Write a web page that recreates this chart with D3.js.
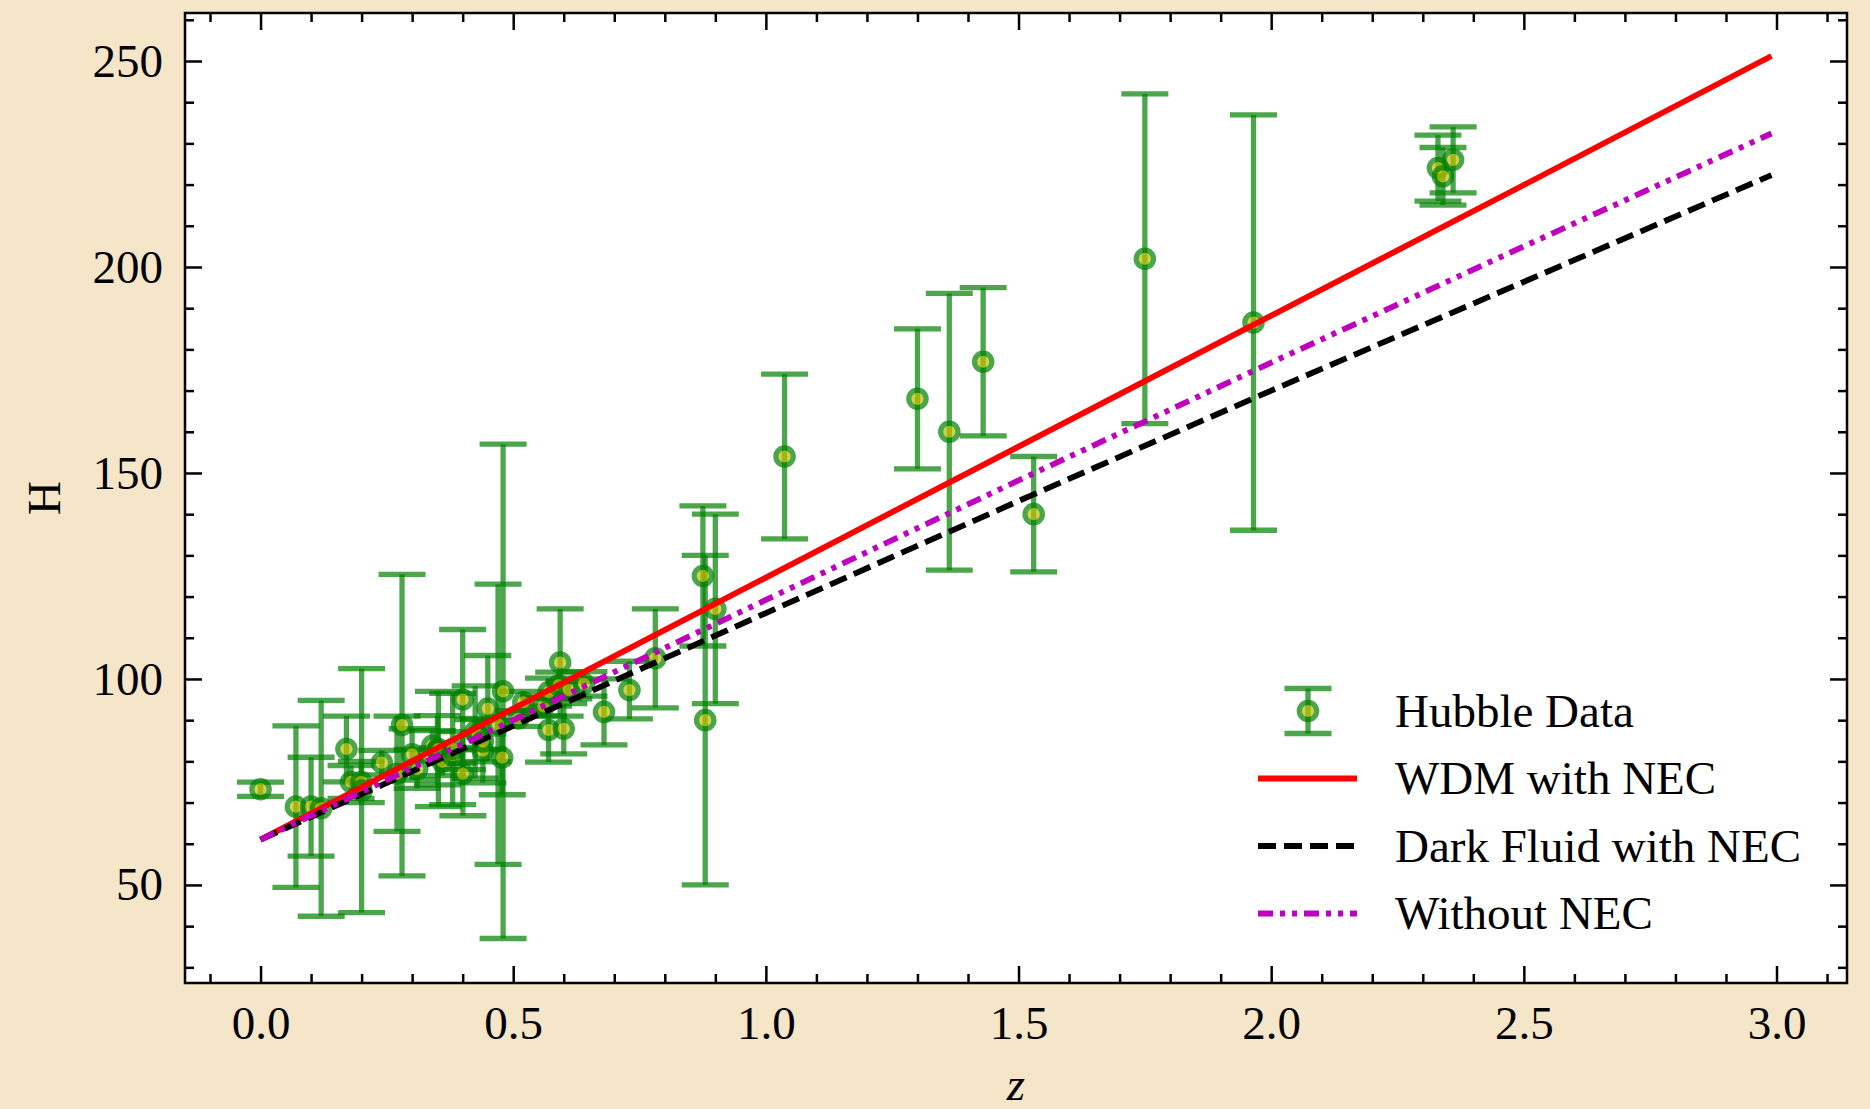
<!DOCTYPE html>
<html lang="en">
<head>
<meta charset="UTF-8">
<script src="https://d3js.org/d3.v7.min.js"></script>
<title>H(z) with Hubble data</title>
<style>
  body { margin: 0; background: #f5e5c9; }
  svg text { font-family: "Liberation Serif", "DejaVu Serif", serif; fill: #000; }
  .axis path.domain { display: none; }
  .axis line { stroke: #000; }
</style>
</head>
<body>
<svg id="chart" width="1870" height="1109"></svg>
<script>
// observed Hubble points: redshift, H, error
const zObs = [0, 0.07, 0.1, 0.12, 0.17, 0.1791, 0.1993, 0.2, 0.24, 0.27, 0.28, 0.3, 0.31, 0.34, 0.35, 0.3519, 0.36, 0.38, 0.3802, 0.4,
  0.4004, 0.4247, 0.43, 0.44, 0.44, 0.4497, 0.47, 0.4783, 0.48, 0.51, 0.52, 0.56, 0.57, 0.57, 0.59, 0.5929, 0.6, 0.61, 0.64, 0.6797,
  0.73, 0.7812, 0.8754, 0.88, 0.9, 1.037, 1.3, 1.363, 1.43, 1.53, 1.75, 1.965, 2.33, 2.34, 2.36];
const hObs = [73.24, 69, 69, 68.6, 83, 75, 75, 72.9, 79.69, 77, 88.8, 81.7, 78.17, 83.8, 82.7, 83, 79.93, 81.5, 83, 95,
  77, 87.1, 86.45, 82.6, 84.81, 92.8, 89, 80.9, 97, 90.4, 94.35, 93.34, 87.6, 96.8, 98.48, 104, 87.9, 97.3, 98.82, 92,
  97.3, 105, 125, 90, 117, 154, 168, 160, 177, 140, 202, 186.5, 224, 222, 226];
const hErr = [1.74, 19.6, 12, 26.2, 8, 4, 5, 29.6, 2.99, 14, 36.6, 6.22, 4.74, 3.66, 8.4, 14, 3.39, 1.9, 13.5, 17,
  10.2, 11.2, 3.68, 7.8, 1.83, 12.9, 34, 9, 60, 1.9, 2.64, 2.3, 7.8, 3.4, 3.18, 13, 6.1, 2.1, 2.98, 8,
  7, 12, 17, 40, 23, 20, 17, 33.6, 18, 14, 40, 50.4, 8, 7, 8];

// model curves
const zModel = [0, 0.5, 1.0, 1.5, 2.0, 2.5, 2.99];
const hWDM = [61, 92.8, 124.6, 156.4, 188.2, 219.9, 251.2];
const hDarkFluid = [61, 88.6, 116.0, 143.2, 170.0, 196.4, 222.3];
const hNoNEC = [61, 90.0, 119.2, 148.2, 176.8, 205.0, 232.4];

const xTicks = [0, 0.5, 1.0, 1.5, 2.0, 2.5, 3.0];
const yTicks = [50, 100, 150, 200, 250];
const legendLabels = ["Hubble Data", "WDM with NEC", "Dark Fluid with NEC", "Without NEC"];

const svg = d3.select("#chart");
const box = {left: 185, right: 1847, top: 13, bottom: 983};

const x = d3.scaleLinear().domain([-0.1495, 3.1395]).range([box.left, box.right]);
const y = d3.scaleLinear().domain([26.2, 261.65]).range([box.bottom, box.top]);

svg.append("rect")
  .attr("x", box.left).attr("y", box.top)
  .attr("width", box.right - box.left).attr("height", box.bottom - box.top)
  .attr("fill", "#fff");

// ticks (inward, on all four sides)
const xMinor = d3.range(-1, 32).map(i => i / 10).filter(v => Math.abs(v * 2 - Math.round(v * 2)) > 1e-6);
const yMinor = d3.range(3, 27).map(i => i * 10).filter(v => v % 50 != 0);
const fmt = d3.format(".1f");

function addAxis(axis, tx, ty) {
  return svg.append("g").attr("class", "axis")
    .attr("transform", `translate(${tx},${ty})`)
    .call(axis);
}

let gx = addAxis(d3.axisBottom(x).tickValues(xTicks).tickFormat(fmt).tickSize(-17).tickSizeOuter(0).tickPadding(23), 0, box.bottom);
gx.selectAll("text").attr("font-size", 47);
addAxis(d3.axisBottom(x).tickValues(xMinor).tickFormat("").tickSize(-9).tickSizeOuter(0), 0, box.bottom);
addAxis(d3.axisTop(x).tickValues(xTicks).tickFormat("").tickSize(-17).tickSizeOuter(0), 0, box.top);
addAxis(d3.axisTop(x).tickValues(xMinor).tickFormat("").tickSize(-9).tickSizeOuter(0), 0, box.top);

let gy = addAxis(d3.axisLeft(y).tickValues(yTicks).tickSize(-17).tickSizeOuter(0).tickPadding(22), box.left, 0);
gy.selectAll("text").attr("font-size", 47);
addAxis(d3.axisLeft(y).tickValues(yMinor).tickFormat("").tickSize(-9).tickSizeOuter(0), box.left, 0);
addAxis(d3.axisRight(y).tickValues(yTicks).tickFormat("").tickSize(-17).tickSizeOuter(0), box.right, 0);
addAxis(d3.axisRight(y).tickValues(yMinor).tickFormat("").tickSize(-9).tickSizeOuter(0), box.right, 0);

svg.selectAll(".axis .tick line").attr("stroke-width", 2.5);

// error bars
const pts = zObs.map((z, i) => ({z: z, h: hObs[i], e: hErr[i]}));
const capW = 23.5;
const barW = 5.3;
const dotR = 8.7, dotEdge = 5.2;
const dataG = svg.append("g");

dataG.selectAll(".bar").data(pts).enter().append("line")
  .attr("x1", d => x(d.z)).attr("x2", d => x(d.z))
  .attr("y1", d => y(d.h - d.e)).attr("y2", d => y(d.h + d.e))
  .attr("stroke", "green").attr("stroke-width", barW).attr("stroke-opacity", 0.7);

["lo", "hi"].forEach(side => {
  dataG.selectAll(".cap-" + side).data(pts).enter().append("line")
    .attr("x1", d => x(d.z) - capW).attr("x2", d => x(d.z) + capW)
    .attr("y1", d => y(side == "lo" ? d.h - d.e : d.h + d.e))
    .attr("y2", d => y(side == "lo" ? d.h - d.e : d.h + d.e))
    .attr("stroke", "green").attr("stroke-width", barW).attr("stroke-opacity", 0.7);
});

dataG.selectAll(".pt").data(pts).enter().append("circle")
  .attr("cx", d => x(d.z)).attr("cy", d => y(d.h))
  .attr("r", dotR)
  .attr("fill", "#bfbf00").attr("stroke", "green").attr("stroke-width", dotEdge)
  .attr("opacity", 0.7);

// model lines
const line = d3.line().x(d => x(d[0])).y(d => y(d[1]));
const models = [
  {vals: hWDM, color: "#ff0000", dash: null},
  {vals: hDarkFluid, color: "#000000", dash: "18,8"},
  {vals: hNoNEC, color: "#bf00bf", dash: "15,7,5,7,5,7"}
];
models.forEach(m => {
  svg.append("path")
    .datum(zModel.map((z, i) => [z, m.vals[i]]))
    .attr("d", line)
    .attr("fill", "none")
    .attr("stroke", m.color)
    .attr("stroke-width", 5.8)
    .attr("stroke-dasharray", m.dash);
});

// frame
svg.append("rect")
  .attr("x", box.left).attr("y", box.top)
  .attr("width", box.right - box.left).attr("height", box.bottom - box.top)
  .attr("fill", "none").attr("stroke", "#000").attr("stroke-width", 2.5);

// legend
const lg = svg.append("g");
const rowY = [711, 778.5, 846, 913.5];
const lx0 = 1258, lx1 = 1357, lmid = 1308;

lg.append("line").attr("x1", lmid).attr("x2", lmid).attr("y1", rowY[0] - 22.5).attr("y2", rowY[0] + 22.5)
  .attr("stroke", "green").attr("stroke-width", barW).attr("stroke-opacity", 0.7);
[-22.5, 22.5].forEach(off => {
  lg.append("line").attr("x1", lmid - capW).attr("x2", lmid + capW)
    .attr("y1", rowY[0] + off).attr("y2", rowY[0] + off)
    .attr("stroke", "green").attr("stroke-width", barW).attr("stroke-opacity", 0.7);
});
lg.append("circle").attr("cx", lmid).attr("cy", rowY[0]).attr("r", dotR)
  .attr("fill", "#bfbf00").attr("stroke", "green").attr("stroke-width", dotEdge).attr("opacity", 0.7);

models.forEach((m, i) => {
  lg.append("line").attr("x1", lx0).attr("x2", lx1)
    .attr("y1", rowY[i + 1]).attr("y2", rowY[i + 1])
    .attr("stroke", m.color).attr("stroke-width", 5.8)
    .attr("stroke-dasharray", m.dash);
});

legendLabels.forEach((t, i) => {
  lg.append("text").attr("x", 1395).attr("y", rowY[i]).attr("dy", "0.33em")
    .attr("font-size", 47).text(t);
});

// axis labels
svg.append("text")
  .attr("transform", `translate(60,${(box.top + box.bottom) / 2}) rotate(-90)`)
  .attr("text-anchor", "middle").attr("font-size", 47).text("H");

svg.append("text")
  .attr("x", (box.left + box.right) / 2).attr("y", 1100)
  .attr("text-anchor", "middle").attr("font-size", 47).attr("font-style", "italic").text("z");
</script>
</body>
</html>
